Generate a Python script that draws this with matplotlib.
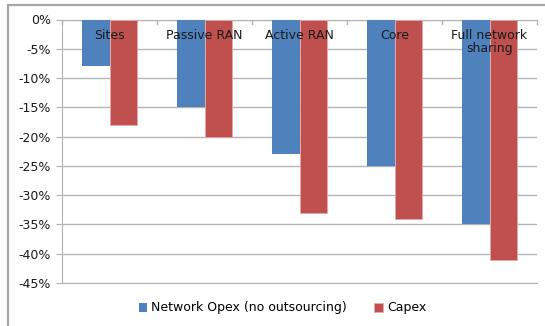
import matplotlib.pyplot as plt
import numpy as np
from matplotlib.patches import Rectangle
from matplotlib.ticker import FuncFormatter

categories = ['Sites', 'Passive RAN', 'Active RAN', 'Core', 'Full network\nsharing']
opex = [-8, -15, -23, -25, -35]
capex = [-18, -20, -33, -34, -41]
series_names = ['Network Opex (no outsourcing)', 'Capex']

blue = '#4F81BD'
red = '#C0504D'
grid_grey = '#B3B3B3'

fig = plt.figure(figsize=(5.45, 3.26), dpi=100)
ax = fig.add_axes([62/545, 1 - 283/326, 475/545, (283 - 19.5)/326])

# outer chart border
fig.patches.append(Rectangle((8/545, -0.05), 1.2, 1 - 5/326 + 0.05, transform=fig.transFigure,
                             fill=False, edgecolor='#A6A6A6', linewidth=1.6))

x = np.arange(len(categories))
w = 0.286
b1 = ax.bar(x - w/2, opex, w, color=blue, zorder=3)
b2 = ax.bar(x + w/2, capex, w, color=red, edgecolor='#E6A9A8', linewidth=0.6, zorder=3)

ax.set_xlim(-0.5, len(categories) - 0.5)
ax.set_ylim(-45, 0)
ax.set_yticks(np.arange(-45, 1, 5))
ax.yaxis.set_major_formatter(FuncFormatter(lambda v, p: '%d%%' % int(round(v))))
ax.yaxis.grid(True, color=grid_grey, linewidth=1.0, zorder=0)

# category labels sit just under the zero line
for i, c in enumerate(categories):
    ax.text(i, -1.6, c, ha='center', va='top', fontsize=9, color='#1a1a1a',
            linespacing=1.05, zorder=4)

ax.set_xticks([])
for xt in np.arange(-0.5, len(categories)):
    ax.plot([xt, xt], [0, -0.7], color=grid_grey, lw=1.0, zorder=2, clip_on=False)

ax.tick_params(axis='y', length=4, color=grid_grey, labelsize=9, pad=4, labelcolor='#1a1a1a')
ax.spines['right'].set_visible(False)
for s in ['left', 'top', 'bottom']:
    ax.spines[s].set_color(grid_grey)

fig.legend([b1, b2], series_names, loc='center', bbox_to_anchor=(0.518, 1 - 308/326), ncol=2,
           frameon=False, fontsize=9, handlelength=0.7, handleheight=0.7,
           handletextpad=0.3, columnspacing=2.2)

plt.savefig('out.png', dpi=100)
plt.close()
